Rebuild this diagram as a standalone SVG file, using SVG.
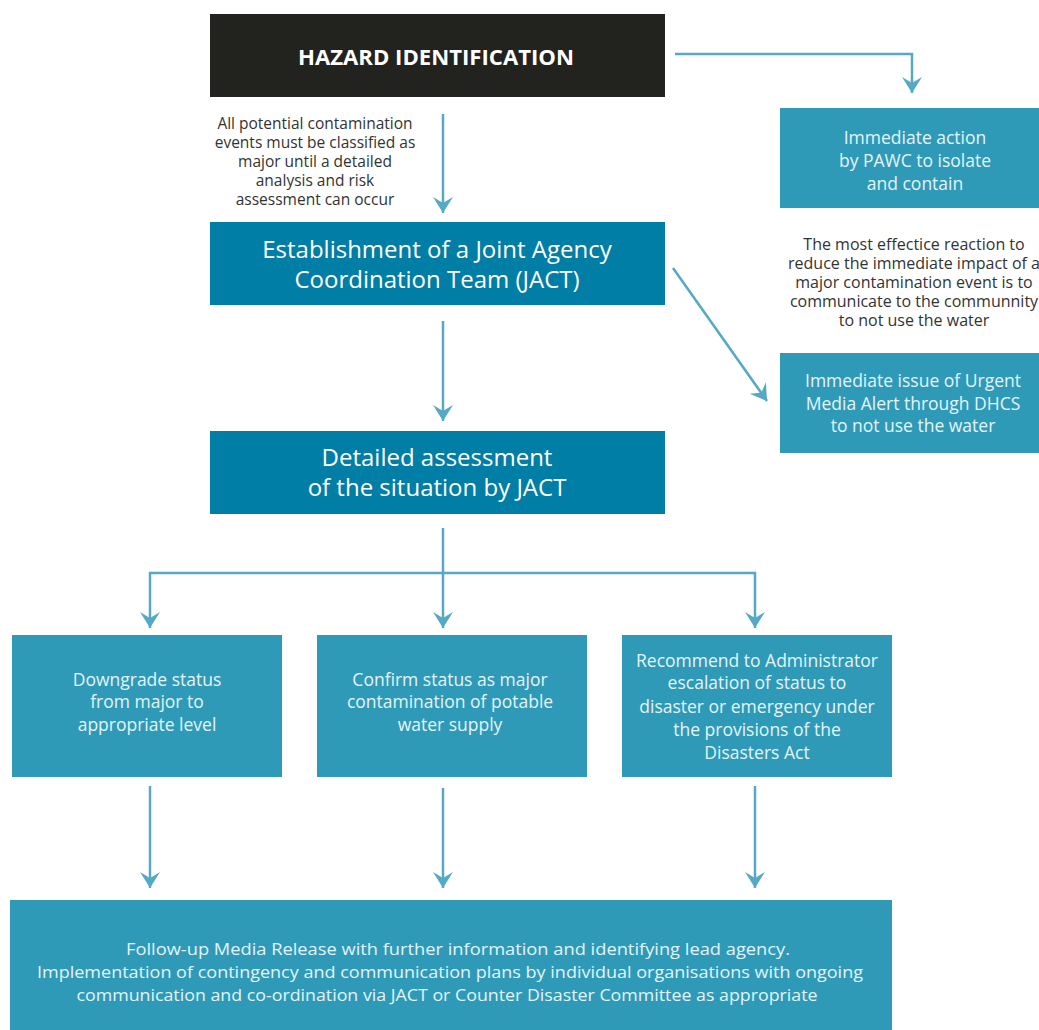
<svg xmlns="http://www.w3.org/2000/svg" width="1039" height="1030" viewBox="0 0 1039 1030">
<defs>
<style>
.dark{fill:#22231f}
.mid{fill:#007ea5}
.light{fill:#2e9ab8}
.conn{stroke:#56a9c5;stroke-width:2.5;fill:none;marker-end:url(#ah)}
.t{font-family:"Open Sans","Noto Sans","Liberation Sans",sans-serif;text-anchor:middle}
.w{fill:#ffffff}
.lt{fill:#e4f4f8}
.note{fill:#333333}
</style>
<marker id="ah" viewBox="-17 -11 18 22" refX="0" refY="0" markerWidth="18" markerHeight="22" markerUnits="userSpaceOnUse" orient="auto">
<path d="M0,0 L-16,-10 L-10,0 L-16,10 Z" fill="#56a9c5"/>
</marker>
</defs>
<rect width="1039" height="1030" fill="#ffffff"/>

<g id="connectors">
<path class="conn" d="M675,54 H912 V93"/>
<path class="conn" d="M443,114 V213"/>
<path class="conn" d="M673,268 L767,401"/>
<path class="conn" d="M443,321 V421"/>
<path class="conn" d="M443,528 V628"/>
<path class="conn" d="M443,573 H150 V628"/>
<path class="conn" d="M443,573 H755 V628"/>
<path class="conn" d="M150,786 V888"/>
<path class="conn" d="M443,788 V888"/>
<path class="conn" d="M755,786 V888"/>
</g>

<g id="hazard">
<rect class="dark" x="210" y="14" width="455" height="83"/>
<text class="t w" x="436" y="65" font-size="22" font-weight="bold" textLength="276" lengthAdjust="spacingAndGlyphs">HAZARD IDENTIFICATION</text>
</g>

<g id="note-classify" font-size="15.5">
<text class="t note" x="315" y="129">All potential contamination</text>
<text class="t note" x="315" y="148">events must be classified as</text>
<text class="t note" x="315" y="167">major until a detailed</text>
<text class="t note" x="315" y="186">analysis and risk</text>
<text class="t note" x="315" y="205">assessment can occur</text>
</g>

<g id="immediate-action" font-size="17.5">
<rect class="light" x="780" y="108" width="259" height="100"/>
<text class="t lt" x="915" y="144">Immediate action</text>
<text class="t lt" x="915" y="167">by PAWC to isolate</text>
<text class="t lt" x="915" y="190">and contain</text>
</g>

<g id="jact" font-size="24">
<rect class="mid" x="210" y="222" width="455" height="83"/>
<text class="t w" x="437" y="258">Establishment of a Joint Agency</text>
<text class="t w" x="437" y="288">Coordination Team (JACT)</text>
</g>

<g id="note-reaction" font-size="16">
<text class="t note" x="914" y="250">The most effectice reaction to</text>
<text class="t note" x="914" y="269">reduce the immediate impact of a</text>
<text class="t note" x="914" y="288">major contamination event is to</text>
<text class="t note" x="914" y="307">communicate to the communnity</text>
<text class="t note" x="914" y="326">to not use the water</text>
</g>

<g id="urgent-alert" font-size="17.5">
<rect class="light" x="780" y="353" width="259" height="100"/>
<text class="t lt" x="913" y="387">Immediate issue of Urgent</text>
<text class="t lt" x="913" y="410">Media Alert through DHCS</text>
<text class="t lt" x="913" y="432">to not use the water</text>
</g>

<g id="detailed" font-size="24">
<rect class="mid" x="210" y="431" width="455" height="83"/>
<text class="t w" x="437" y="466">Detailed assessment</text>
<text class="t w" x="437" y="496">of the situation by JACT</text>
</g>

<g id="downgrade" font-size="17.5">
<rect class="light" x="12" y="635" width="270" height="142"/>
<text class="t lt" x="147" y="686">Downgrade status</text>
<text class="t lt" x="147" y="708">from major to</text>
<text class="t lt" x="147" y="731">appropriate level</text>
</g>

<g id="confirm" font-size="17.5">
<rect class="light" x="317" y="635" width="270" height="142"/>
<text class="t lt" x="450" y="686">Confirm status as major</text>
<text class="t lt" x="450" y="708">contamination of potable</text>
<text class="t lt" x="450" y="731">water supply</text>
</g>

<g id="recommend" font-size="17.5">
<rect class="light" x="622" y="635" width="270" height="142"/>
<text class="t lt" x="757" y="667">Recommend to Administrator</text>
<text class="t lt" x="757" y="689">escalation of status to</text>
<text class="t lt" x="757" y="713">disaster or emergency under</text>
<text class="t lt" x="757" y="736">the provisions of the</text>
<text class="t lt" x="757" y="759">Disasters Act</text>
</g>

<g id="follow-up" font-size="17">
<rect class="light" x="10" y="900" width="882" height="130"/>
<text class="t lt" x="458" y="955" textLength="664" lengthAdjust="spacingAndGlyphs">Follow-up Media Release with further information and identifying lead agency.</text>
<text class="t lt" x="450" y="978" textLength="826" lengthAdjust="spacingAndGlyphs">Implementation of contingency and communication plans by individual organisations with ongoing</text>
<text class="t lt" x="447" y="1001" textLength="741" lengthAdjust="spacingAndGlyphs">communication and co-ordination via JACT or Counter Disaster Committee as appropriate</text>
</g>
</svg>
